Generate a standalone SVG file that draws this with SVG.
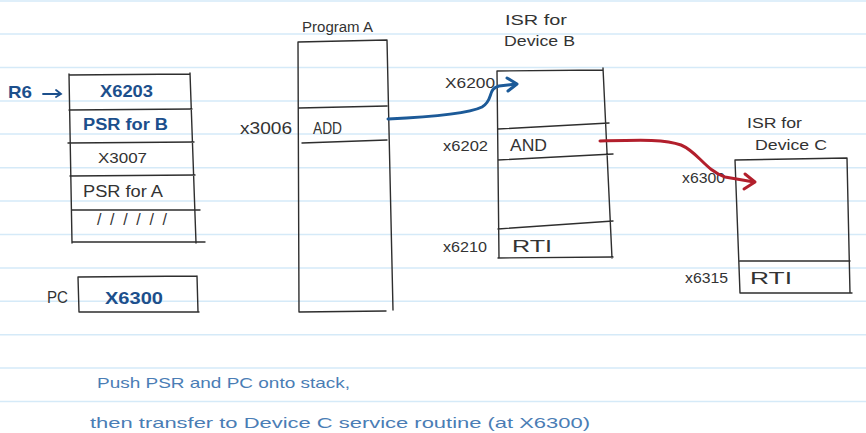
<svg xmlns="http://www.w3.org/2000/svg" width="866" height="433" viewBox="0 0 866 433">
<style>
.rule{stroke:#d5eaf8;stroke-width:1.5}
.box{fill:none;stroke:#2e2e2e;stroke-width:1.4;stroke-linecap:round}
.t{font-family:"Liberation Sans",Arial,sans-serif;fill:#333;font-size:15px}
.b{fill:#1c4f8c;font-weight:bold;font-size:17px}
.note{fill:#4a7db5;font-size:15px}
.blue{fill:none;stroke:#1c5a98;stroke-width:3;stroke-linecap:round;stroke-linejoin:round}
.red{fill:none;stroke:#b21f2c;stroke-width:3;stroke-linecap:round;stroke-linejoin:round}
</style>
<rect width="866" height="433" fill="#ffffff"/>
<g id="paper">
<line class="rule" x1="0" y1="1" x2="866" y2="1"/>
<line class="rule" x1="0" y1="34" x2="866" y2="34"/>
<line class="rule" x1="0" y1="67.5" x2="866" y2="67.5"/>
<line class="rule" x1="0" y1="101" x2="866" y2="101"/>
<line class="rule" x1="0" y1="134" x2="866" y2="134"/>
<line class="rule" x1="0" y1="167.7" x2="866" y2="167.7"/>
<line class="rule" x1="0" y1="201" x2="866" y2="201"/>
<line class="rule" x1="0" y1="234.5" x2="866" y2="234.5"/>
<line class="rule" x1="0" y1="268" x2="866" y2="268"/>
<line class="rule" x1="0" y1="301.3" x2="866" y2="301.3"/>
<line class="rule" x1="0" y1="334.7" x2="866" y2="334.7"/>
<line class="rule" x1="0" y1="368" x2="866" y2="368"/>
<line class="rule" x1="0" y1="401.5" x2="866" y2="401.5"/>
</g>
<g id="stack">
<path class="box" d="M69,75 L190,74 M69,74 L72,243 M190,73 L196,243 M69,110 L192,109 M68,143 L194,142 M70,176 L195,175 M72,210 L200,210 M72,242 L205,242"/>
<text class="t b" x="8" y="98" textLength="24" lengthAdjust="spacingAndGlyphs">R6</text>
<path fill="none" stroke="#1c4f8c" stroke-width="1.8" stroke-linecap="round" d="M43,94 L61,94 M56,90 L61,94 L56,97"/>
<text class="t b" x="100" y="97" textLength="53" lengthAdjust="spacingAndGlyphs">X6203</text>
<text class="t b" x="83" y="130" textLength="85" lengthAdjust="spacingAndGlyphs" style="font-size:16px">PSR for B</text>
<text class="t" x="98" y="163" textLength="49" lengthAdjust="spacingAndGlyphs">X3007</text>
<text class="t" x="83" y="197" textLength="80" lengthAdjust="spacingAndGlyphs" style="font-size:16px">PSR for A</text>
<text class="t" x="97" y="225" textLength="70" lengthAdjust="spacing" style="font-size:16px">//////</text>
</g>
<g id="pc">
<path class="box" d="M78,277 L197,276 M78,277 L79,312 M197,276 L198,312 M80,312 L199,312"/>
<text class="t" x="47" y="303" textLength="21" lengthAdjust="spacingAndGlyphs" style="font-size:17px">PC</text>
<text class="t b" x="105" y="304" textLength="58" lengthAdjust="spacingAndGlyphs">X6300</text>
</g>
<g id="programA">
<path class="box" d="M298,42 L387,40 M298,42 L299,312 M387,40 L393,310 M299,312 L386,311 M299,108 L387,106 M302,143 L387,140"/>
<text class="t" x="302" y="32" textLength="71" lengthAdjust="spacingAndGlyphs" style="font-size:14px">Program A</text>
<text class="t" x="240" y="134" textLength="52" lengthAdjust="spacingAndGlyphs" style="font-size:16px">x3006</text>
<text class="t" x="313" y="134" textLength="29" lengthAdjust="spacingAndGlyphs" style="font-size:16px">ADD</text>
</g>
<g id="isrB">
<path class="box" d="M497,71 L603,70 M497,71 L499,258 M603,68 L612,258 M498,129 L609,123 M498,160 L613,154 M498,229 L613,221 M498,258 L613,257"/>
<text class="t" x="505" y="25" textLength="62" lengthAdjust="spacingAndGlyphs" style="font-size:14px">ISR for</text>
<text class="t" x="504" y="46" textLength="71" lengthAdjust="spacingAndGlyphs">Device B</text>
<text class="t" x="445" y="88" textLength="50" lengthAdjust="spacingAndGlyphs">X6200</text>
<text class="t" x="443" y="151" textLength="45" lengthAdjust="spacingAndGlyphs">x6202</text>
<text class="t" x="510" y="151" textLength="37" lengthAdjust="spacingAndGlyphs" style="font-size:16px">AND</text>
<text class="t" x="443" y="252" textLength="44" lengthAdjust="spacingAndGlyphs">x6210</text>
<text class="t" x="512" y="252" textLength="40" lengthAdjust="spacingAndGlyphs" style="font-size:16px">RTI</text>
</g>
<g id="isrC">
<path class="box" d="M735,160 L847,158 M735,160 L740,293 M847,158 L850,293 M740,261 L850,261 M740,293 L852,293"/>
<text class="t" x="747" y="128" textLength="55" lengthAdjust="spacingAndGlyphs" style="font-size:14px">ISR for</text>
<text class="t" x="755" y="150" textLength="72" lengthAdjust="spacingAndGlyphs">Device C</text>
<text class="t" x="682" y="183" textLength="43" lengthAdjust="spacingAndGlyphs">x6300</text>
<text class="t" x="685" y="283" textLength="43" lengthAdjust="spacingAndGlyphs">x6315</text>
<text class="t" x="750" y="284" textLength="42" lengthAdjust="spacingAndGlyphs" style="font-size:16px">RTI</text>
</g>
<g id="connectors">
<path class="blue" d="M388,119 C430,117 468,114 482,107 C494,100 487,89 499,86 L516,84"/>
<path class="blue" d="M507,78 L517,84 L508,91"/>
<path class="red" d="M600,141 C640,140 665,139 681,145 C698,152 705,170 725,177 L754,182"/>
<path class="red" d="M745,174 L755,182 L744,189"/>
</g>
<g id="note">
<text class="t note" x="97" y="388" textLength="253" lengthAdjust="spacingAndGlyphs">Push PSR and PC onto stack,</text>
<text class="t note" x="90" y="428" textLength="500" lengthAdjust="spacingAndGlyphs">then transfer to Device C service routine (at X6300)</text>
</g>
</svg>
